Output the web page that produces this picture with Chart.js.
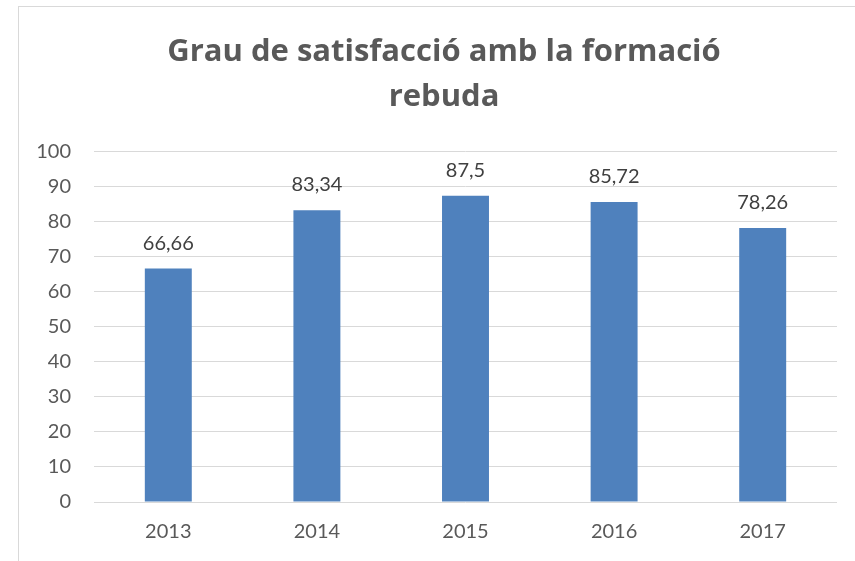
<!DOCTYPE html>
<html>
<head>
<meta charset="utf-8">
<script src="https://cdn.jsdelivr.net/npm/chart.js@4.4.1/dist/chart.umd.min.js"></script>
<style>
  html, body { margin: 0; padding: 0; background: #ffffff; width: 855px; height: 561px; overflow: hidden; }
  #frame { position: absolute; left: 18px; top: 6px; width: 850px; height: 600px; border: 1px solid #d9d9d9; background: #fff; }
  #wrap { position: absolute; left: 0; top: 0; width: 850px; height: 560px; }
</style>
</head>
<body>
<div id="frame"><div id="wrap"><canvas id="c"></canvas></div></div>
<script>
const titleLines = ["Grau de satisfacció amb la formació", "rebuda"];
const categories = ["2013", "2014", "2015", "2016", "2017"];
const values = [66.66, 83.34, 87.5, 85.72, 78.26];
const yTicks = [0, 10, 20, 30, 40, 50, 60, 70, 80, 90, 100];

const FONT = "Lato, 'Open Sans', sans-serif";
const TITLE_FONT = "'Open Sans', Lato, sans-serif";

const labelPlugin = {
  id: 'barLabels',
  afterDatasetsDraw(chart) {
    const ctx = chart.ctx;
    const meta = chart.getDatasetMeta(0);
    ctx.save();
    ctx.font = "20px " + FONT;
    ctx.fillStyle = "#404040";
    ctx.textAlign = "center";
    ctx.textBaseline = "alphabetic";
    meta.data.forEach((bar, i) => {
      const txt = String(chart.data.datasets[0].data[i]).replace('.', ',');
      ctx.fillText(txt, bar.x, bar.y - 19);
    });
    ctx.restore();
  }
};

new Chart(document.getElementById('c'), {
  type: 'bar',
  data: {
    labels: categories,
    datasets: [{
      data: values,
      yAxisID: 'y',
      backgroundColor: '#4f81bd',
      borderWidth: 0,
      barPercentage: 0.316,
      categoryPercentage: 1.0
    }]
  },
  options: {
    responsive: true,
    maintainAspectRatio: false,
    animation: false,
    events: [],
    layout: { padding: { left: 0, right: 0, top: 0, bottom: 5 } },
    plugins: {
      legend: { display: false },
      tooltip: { enabled: false },
      title: {
        display: true,
        text: titleLines,
        color: '#595959',
        font: { family: TITLE_FONT, size: 31, weight: 'bold', lineHeight: 1.45 },
        padding: { top: 23, bottom: 32 }
      }
    },
    scales: {
      x: {
        grid: { display: false, drawTicks: false },
        border: { display: false },
        ticks: { color: '#595959', font: { family: FONT, size: 20 }, padding: 18 }
      },
      y: {
        min: 0, max: 100,
        afterFit(scale) { scale.width = 75; },
        afterBuildTicks(scale) { scale.ticks = yTicks.map(v => ({ value: v })); },
        grid: { color: '#d9d9d9', lineWidth: 1, drawTicks: false },
        border: { display: false },
        ticks: { color: '#595959', font: { family: FONT, size: 20 }, padding: 23 }
      },
      yRightSpace: {
        position: 'right',
        min: 0, max: 1,
        afterFit(scale) { scale.width = 32; },
        grid: { display: false, drawTicks: false },
        border: { display: false },
        ticks: { display: false }
      }
    }
  },
  plugins: [labelPlugin]
});
</script>
</body>
</html>
